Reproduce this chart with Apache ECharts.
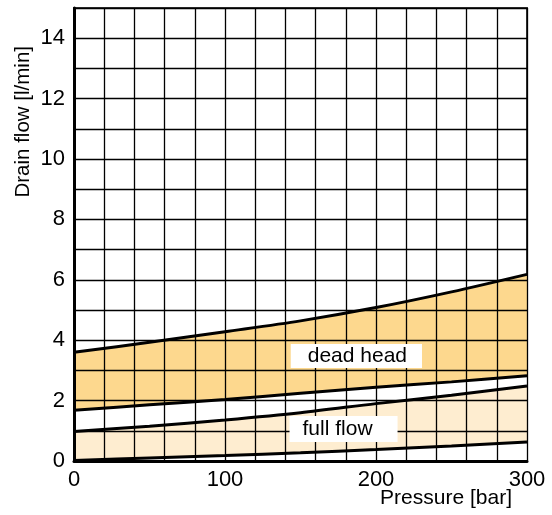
<!DOCTYPE html>
<html>
<head>
<meta charset="utf-8">
<script src="https://cdn.jsdelivr.net/npm/echarts@6/dist/echarts.min.js"></script>
<style>
  html, body { margin: 0; padding: 0; background: #fff; }
  #container { width: 552px; height: 515px; }
</style>
</head>
<body>
<div id="container"></div>
<script>
// pressure in bar
var pressure = [0, 50, 100, 150, 200, 250, 300];
// drain flow in l/min
var deadHeadUpper = [3.6, 3.93, 4.28, 4.64, 5.08, 5.6, 6.18];
var deadHeadLower = [1.68, 1.86, 2.04, 2.24, 2.44, 2.62, 2.82];
var fullFlowUpper = [0.98, 1.15, 1.36, 1.6, 1.9, 2.18, 2.48];
var fullFlowLower = [0.02, 0.1, 0.18, 0.27, 0.38, 0.5, 0.63];
// band labels: [pressure, flow, text]
var bandLabels = [
    [187, 3.48, 'dead head'],
    [178.5, 1.06, 'full flow']
];

var FONT = 'Liberation Sans, Arial, sans-serif';

function pairs(ys) {
    return pressure.map(function(x, i) { return [x, ys[i]]; });
}

function curve(name, ys, fill) {
    return {
        name: name,
        type: 'line',
        data: pairs(ys),
        smooth: 0.3,
        symbol: 'none',
        z: 2,
        lineStyle: { color: '#000', width: 3 },
        areaStyle: { color: fill, opacity: 1, origin: 'start' }
    };
}

var dom = document.getElementById('container');
var myChart = echarts.init(dom);

var option = {
    backgroundColor: '#fff',
    animation: false,
    grid: {
        left: 74, right: 25, top: 8, bottom: 54,
        containLabel: false,
        outerBoundsMode: 'none',
        show: true,
        borderColor: '#333',
        borderWidth: 2,
        backgroundColor: 'transparent'
    },
    xAxis: {
        type: 'value',
        min: 0, max: 300, interval: 20,
        z: 5,
        axisLine: { show: true, lineStyle: { color: '#000', width: 3 } },
        axisTick: { show: false },
        splitLine: { show: true, lineStyle: { color: '#000', width: 1.3 } },
        axisLabel: {
            fontFamily: FONT, fontSize: 22, color: '#000', margin: 8,
            formatter: function(v) { return v % 100 === 0 ? String(v) : ''; }
        }
    },
    yAxis: {
        type: 'value',
        min: 0, max: 15, interval: 1,
        z: 5,
        axisLine: { show: true, lineStyle: { color: '#000', width: 3 } },
        axisTick: { show: false },
        splitLine: { show: true, lineStyle: { color: '#000', width: 1.3 } },
        axisLabel: {
            fontFamily: FONT, fontSize: 22, color: '#000', margin: 9,
            formatter: function(v) { return v % 2 === 0 ? String(v) : ''; }
        }
    },
    graphic: [{
        type: 'text',
        left: 13,
        top: 46,
        rotation: Math.PI / 2,
        style: {
            text: 'Drain flow [l/min]',
            font: '20.5px ' + FONT,
            fill: '#000'
        }
    }, {
        type: 'text',
        right: 40,
        top: 488,
        style: {
            text: 'Pressure [bar]',
            font: '21px ' + FONT,
            fill: '#000'
        }
    }],
    series: [
        curve('dead head upper', deadHeadUpper, '#FDD88E'),
        curve('dead head lower', deadHeadLower, '#FFFFFF'),
        curve('full flow upper', fullFlowUpper, '#FEEDD0'),
        curve('full flow lower', fullFlowLower, '#FFFFFF'),
        {
            name: 'labels',
            type: 'scatter',
            z: 20,
            symbolSize: 0,
            itemStyle: { opacity: 1 },
            data: bandLabels.map(function(d, i) {
                return {
                    value: [d[0], d[1], d[2]],
                    label: { padding: i === 0 ? [2, 15, 1, 17] : [3, 25, 2, 13] }
                };
            }),
            label: {
                show: true,
                position: 'inside',
                formatter: function(p) { return p.value[2]; },
                fontFamily: FONT,
                fontSize: 21,
                color: '#000',
                backgroundColor: '#fff'
            }
        }
    ]
};

if (option && typeof option === 'object') {
    myChart.setOption(option, true);
}
</script>
</body>
</html>
